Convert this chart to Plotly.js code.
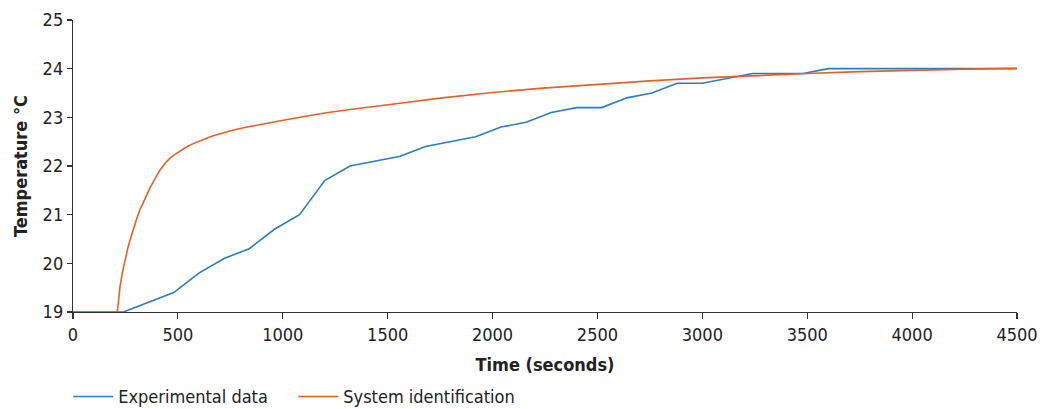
<!DOCTYPE html>
<html>
<head>
<meta charset="utf-8">
<script src="https://cdn.plot.ly/plotly-3.0.1.min.js"></script>
<style>
  html, body { margin: 0; padding: 0; background: #fff; }
  #chart { width: 1040px; height: 409px; }
</style>
</head>
<body>
<div id="chart"></div>
<script>
// Experimental data (seconds, °C)
const expTime = [0, 120, 240, 360, 480, 600, 720, 840, 960, 1080, 1200, 1320, 1440, 1560, 1680, 1800, 1920, 2040, 2160, 2280, 2400, 2520, 2640, 2760, 2880, 3000, 3120, 3240, 3360, 3480, 3600, 3720, 3840, 3960, 4080, 4200, 4320, 4440, 4500];
const expTemp = [19.0, 19.0, 19.0, 19.2, 19.4, 19.8, 20.1, 20.3, 20.7, 21.0, 21.7, 22.0, 22.1, 22.2, 22.4, 22.5, 22.6, 22.8, 22.9, 23.1, 23.2, 23.2, 23.4, 23.5, 23.7, 23.7, 23.8, 23.9, 23.9, 23.9, 24.0, 24.0, 24.0, 24.0, 24.0, 24.0, 24.0, 24.0, 24.0];

// System identification model response (seconds, °C)
const sysTime = [0, 211, 218, 224, 236, 248, 260, 272, 284, 296, 308, 319, 335, 351, 367, 383, 399, 415, 438, 462, 486, 510, 541, 573, 605, 637, 669, 701, 764, 830, 900, 990, 1082, 1200, 1320, 1440, 1559, 1760, 2000, 2240, 2500, 2750, 3000, 3250, 3500, 3750, 4000, 4250, 4500];
const sysTemp = [19.0, 19.0, 19.27, 19.52, 19.82, 20.07, 20.29, 20.48, 20.66, 20.82, 20.97, 21.1, 21.26, 21.4, 21.55, 21.68, 21.8, 21.92, 22.05, 22.16, 22.24, 22.31, 22.39, 22.46, 22.52, 22.57, 22.62, 22.66, 22.74, 22.8, 22.86, 22.93, 23.0, 23.09, 23.16, 23.23, 23.29, 23.4, 23.51, 23.6, 23.68, 23.75, 23.81, 23.86, 23.9, 23.94, 23.97, 23.99, 24.01];

const seriesNames = ["Experimental data", "System identification"];
const xTicks = [0, 500, 1000, 1500, 2000, 2500, 3000, 3500, 4000, 4500];
const yTicks = [19, 20, 21, 22, 23, 24, 25];

const FONT = '"Liberation Sans Narrow", "DejaVu Sans Condensed", "Open Sans", sans-serif';

const traces = [
  { x: expTime, y: expTemp, name: seriesNames[0], type: 'scatter', mode: 'lines',
    line: { color: '#2b7cc1', width: 1.6 } },
  { x: sysTime, y: sysTemp, name: seriesNames[1], type: 'scatter', mode: 'lines',
    line: { color: '#e2602b', width: 1.6 } }
];

const axisCommon = {
  showgrid: false, zeroline: false, showline: true,
  linecolor: '#333', linewidth: 1.2,
  ticks: 'outside', tickcolor: '#333', tickwidth: 1.2,
  tickfont: { family: FONT, size: 18, color: '#222' }
};

const layout = {
  width: 1040, height: 409,
  margin: { l: 73, r: 23, t: 20, b: 97, autoexpand: false },
  paper_bgcolor: '#fff', plot_bgcolor: '#fff',
  showlegend: true,
  legend: { orientation: 'h', x: -0.005, xanchor: 'left', yref: 'container', y: 0.03, yanchor: 'middle',
            font: { family: FONT, size: 18, color: '#222' }, itemwidth: 40, traceorder: 'normal',
            entrywidth: 170, entrywidthmode: 'pixels',
            bgcolor: 'rgba(0,0,0,0)' },
  xaxis: Object.assign({}, axisCommon, {
    range: [0, 4500], tickvals: xTicks, ticklen: 6,
    title: { text: 'Time (seconds)', font: { family: FONT, size: 18, color: '#222', weight: 'bold' }, standoff: 14 }
  }),
  yaxis: Object.assign({}, axisCommon, {
    range: [19, 25], tickvals: yTicks, ticklen: 5,
    title: { text: 'Temperature °C', font: { family: FONT, size: 18, color: '#222', weight: 'bold' }, standoff: 10 }
  })
};

Plotly.newPlot('chart', traces, layout, { displayModeBar: false, staticPlot: true });
</script>
</body>
</html>
